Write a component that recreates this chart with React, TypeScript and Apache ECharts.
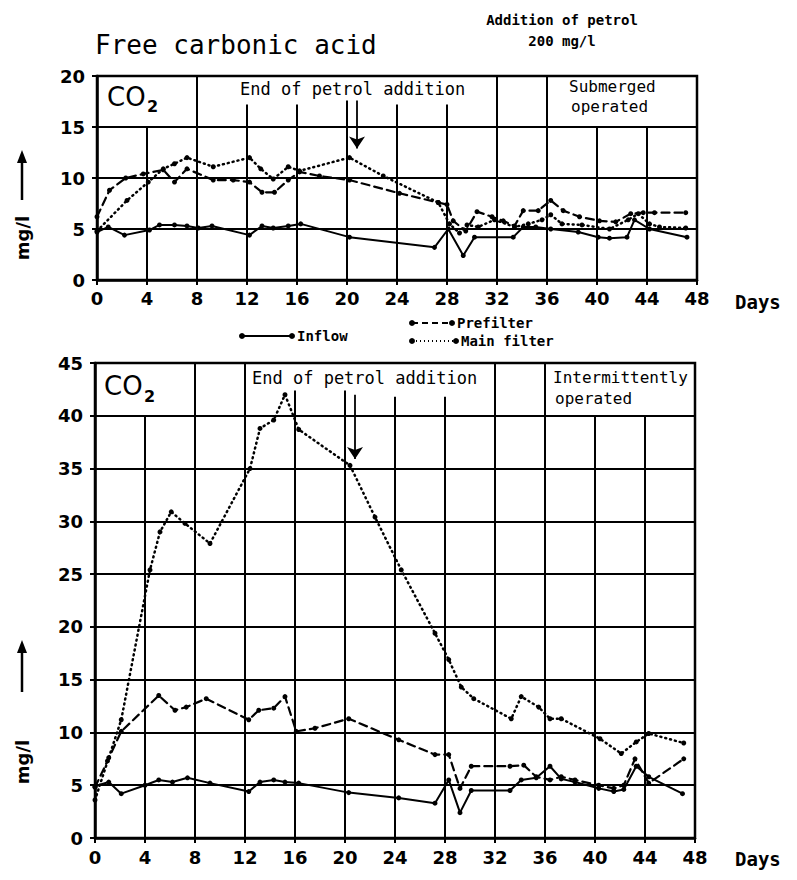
import React, { useEffect, useRef } from "react";
import * as echarts from "echarts";

// ---------- data (days, mg/l) ----------
const inTopDays = [0, 0.9, 2.2, 4.2, 5.0, 6.2, 7.2, 8.1, 9.2, 12.2, 13.2, 14.1, 15.3, 16.3, 20.2, 27.0, 28.1, 29.3, 30.2, 33.3, 34.1, 35.1, 36.3, 38.5, 40.1, 41.0, 42.4, 43.0, 44.2, 47.2];
const inTopVals = [4.7, 5.2, 4.4, 4.9, 5.4, 5.4, 5.3, 5.1, 5.3, 4.4, 5.3, 5.1, 5.3, 5.5, 4.2, 3.2, 5.0, 2.4, 4.2, 4.2, 5.2, 5.2, 5.0, 4.7, 4.2, 4.1, 4.2, 5.9, 5.0, 4.2];

const prefTopDays = [0, 1.0, 2.3, 3.7, 5.3, 6.2, 7.2, 9.3, 10.9, 12.2, 13.2, 14.2, 15.3, 16.2, 17.8, 20.2, 24.2, 27.3, 28.0, 28.5, 29.5, 30.4, 31.6, 32.5, 33.4, 34.1, 35.3, 36.3, 37.3, 38.6, 40.2, 41.5, 42.7, 43.7, 44.6, 47.1];
const prefTopVals = [6.2, 8.8, 10.0, 10.4, 10.8, 9.6, 10.9, 9.8, 9.8, 9.6, 8.6, 8.6, 9.8, 10.6, 10.2, 9.8, 8.5, 7.6, 7.4, 5.8, 4.8, 6.7, 6.2, 5.8, 5.3, 6.8, 6.8, 7.8, 6.8, 6.2, 5.8, 5.7, 6.5, 6.6, 6.6, 6.6];

const mainTopDays = [0, 2.4, 4.1, 5.3, 6.2, 7.2, 9.3, 12.2, 13.1, 14.1, 15.3, 16.2, 20.2, 22.9, 27.3, 28.2, 29.0, 29.6, 30.5, 31.8, 33.4, 34.5, 35.6, 36.3, 37.2, 38.8, 41.0, 42.5, 43.3, 44.2, 45.0, 47.1];
const mainTopVals = [4.8, 7.8, 9.6, 10.9, 11.4, 12.0, 11.1, 12.0, 10.9, 9.9, 11.1, 10.7, 12.0, 10.2, 7.6, 5.5, 4.6, 5.4, 5.2, 5.9, 5.2, 5.5, 5.9, 6.4, 5.5, 5.4, 5.0, 5.9, 6.5, 5.5, 5.2, 5.1];

const inBotDays = [0, 1.1, 2.1, 4.0, 5.1, 6.2, 7.4, 9.2, 12.3, 13.2, 14.3, 15.2, 16.3, 20.3, 24.3, 27.2, 28.3, 29.2, 30.1, 33.2, 34.1, 35.3, 36.4, 37.3, 38.4, 40.3, 41.5, 42.3, 43.3, 44.3, 47.0];
const inBotVals = [4.9, 5.3, 4.2, 5.0, 5.5, 5.3, 5.7, 5.2, 4.4, 5.3, 5.5, 5.3, 5.2, 4.3, 3.8, 3.3, 5.5, 2.4, 4.5, 4.5, 5.5, 5.7, 6.8, 5.6, 5.3, 4.7, 4.4, 4.6, 6.8, 5.8, 4.2];

const prefBotDays = [0, 1.0, 2.1, 5.1, 6.4, 7.3, 8.9, 12.3, 13.1, 14.3, 15.2, 16.1, 17.6, 20.3, 24.3, 27.2, 28.3, 29.2, 30.1, 33.2, 34.3, 35.3, 36.4, 37.3, 38.4, 40.3, 41.5, 42.3, 43.2, 44.3, 47.1];
const prefBotVals = [4.8, 7.3, 10.1, 13.5, 12.1, 12.4, 13.2, 11.2, 12.1, 12.3, 13.4, 10.1, 10.4, 11.3, 9.3, 7.9, 7.9, 4.7, 6.8, 6.8, 6.9, 5.8, 5.5, 5.8, 5.5, 5.0, 4.7, 5.0, 7.5, 5.2, 7.5];

const mainBotDays = [0, 1.1, 2.1, 4.4, 5.2, 6.1, 7.2, 9.2, 12.4, 13.2, 14.3, 15.2, 16.3, 20.4, 22.4, 24.5, 27.2, 28.3, 29.3, 30.3, 33.3, 34.1, 35.5, 36.4, 37.3, 40.4, 42.1, 43.3, 44.3, 47.1];
const mainBotVals = [3.6, 7.6, 11.2, 25.4, 29.0, 30.9, 29.8, 27.9, 35.0, 38.8, 39.6, 42.0, 38.7, 35.3, 30.4, 25.4, 19.4, 16.9, 14.3, 13.2, 11.3, 13.4, 12.4, 11.3, 11.3, 9.4, 8.0, 9.1, 9.9, 9.0];

// vertical grid lines: day and the value where each line stops
const gridDays = [4, 8, 12, 16, 20, 24, 28, 32, 36, 40, 44];
const topGridEnds = [15, 20, 17.2, 17.2, 17.6, 17.2, 17.2, 20, 20, 15, 15];
const botGridEnds = [40, 45, 45, 42.4, 42.4, 41.8, 41.8, 45, 45, 40, 40];

// arrow marking the end of petrol addition: day, from, to
const topArrow = [20.8, 17.6, 12.9];
const botArrow = [20.8, 42.0, 35.9];

const pair = (d: number[], v: number[]) => d.map((x, i) => [x, v[i]]);

const FONT = '"DejaVu Sans", sans-serif';
const MONO = '"DejaVu Sans Mono", monospace';

export default function App() {
  const ref = useRef<HTMLDivElement>(null);
  useEffect(() => {
    if (!ref.current) return;
    const chart = echarts.init(ref.current, null, { renderer: "svg" });

    const xAxisBase = (gi: number, margin: number) => ({
      type: "value",
      gridIndex: gi,
      min: 0,
      max: 48,
      interval: 4,
      axisLine: { show: true, lineStyle: { color: "#000", width: 2.5 } },
      axisTick: { show: true, length: 5, lineStyle: { color: "#000", width: 2 } },
      axisLabel: { color: "#000", fontFamily: FONT, fontWeight: "bold", fontSize: 18, margin },
      splitLine: { show: false },
    });
    const yAxisBase = (gi: number, max: number) => ({
      type: "value",
      gridIndex: gi,
      min: 0,
      max,
      interval: 5,
      axisLine: { show: true, lineStyle: { color: "#000", width: 2.5 } },
      axisTick: { show: true, length: 5, lineStyle: { color: "#000", width: 2 } },
      axisLabel: { color: "#000", fontFamily: FONT, fontWeight: "bold", fontSize: 18, margin: 12 },
      splitLine: { show: true, lineStyle: { color: "#000", width: 2 } },
    });

    const lineSeries = (name: string, gi: number, data: number[][], type: any, width: number) => ({
      name,
      type: "line",
      xAxisIndex: gi,
      yAxisIndex: gi,
      data,
      symbol: "circle",
      symbolSize: 5,
      itemStyle: { color: "#000" },
      lineStyle: { color: "#000", width, type, cap: "round" },
      z: 3,
    });

    const gridSeries = (gi: number, ends: number[]) => ({
      type: "line",
      xAxisIndex: gi,
      yAxisIndex: gi,
      data: [],
      silent: true,
      markLine: {
        silent: true,
        symbol: ["none", "none"],
        label: { show: false },
        lineStyle: { color: "#000", width: 2, type: "solid" },
        data: gridDays.map((d, i) => [{ coord: [d, 0] }, { coord: [d, ends[i]] }]),
      },
    });
    const arrowSeries = (gi: number, arrow: number[]) => ({
      type: "line",
      xAxisIndex: gi,
      yAxisIndex: gi,
      data: [],
      silent: true,
      markLine: {
        silent: true,
        symbol: ["none", "arrow"],
        symbolSize: 12,
        label: { show: false },
        lineStyle: { color: "#000", width: 1.8, type: "solid" },
        data: [[{ coord: [arrow[0], arrow[1]] }, { coord: [arrow[0], arrow[2]] }]],
      },
    });

    const txt = (x: number, y: number, text: string, font: string, align = "left", extra: any = {}) => ({
      type: "text",
      x,
      y,
      z: 10,
      ...extra,
      style: { text, font, fill: "#000", align, verticalAlign: "middle" },
    });

    const yName = (cx: number, cy: number, arrowTop: number, arrowBottom: number) => [
      txt(cx, cy, "mg/l", `bold 18px ${FONT}`, "center", { rotation: Math.PI / 2 }),
      { type: "line", z: 10, shape: { x1: cx, y1: arrowBottom, x2: cx, y2: arrowTop + 8 }, style: { stroke: "#000", lineWidth: 2.5 } },
      { type: "polygon", z: 10, shape: { points: [[cx, arrowTop], [cx - 5, arrowTop + 13], [cx + 5, arrowTop + 13]] }, style: { fill: "#000" } },
    ];

    const dot = (x: number, y: number) => ({ type: "circle", z: 10, shape: { cx: x, cy: y, r: 3 }, style: { fill: "#000" } });

    const option: any = {
      animation: false,
      backgroundColor: "#fff",
      grid: [
        { left: 97, top: 76, width: 600, height: 204, show: true, borderColor: "#000", borderWidth: 2.5, backgroundColor: "transparent" },
        { left: 95, top: 363, width: 600, height: 475, show: true, borderColor: "#000", borderWidth: 2.5, backgroundColor: "transparent" },
      ],
      xAxis: [xAxisBase(0, 9), xAxisBase(1, 10)],
      yAxis: [yAxisBase(0, 20), yAxisBase(1, 45)],
      series: [
        gridSeries(0, topGridEnds),
        gridSeries(1, botGridEnds),
        arrowSeries(0, topArrow),
        arrowSeries(1, botArrow),
        lineSeries("Inflow", 0, pair(inTopDays, inTopVals), "solid", 2),
        lineSeries("Prefilter", 0, pair(prefTopDays, prefTopVals), [8, 5], 2.2),
        lineSeries("Main filter", 0, pair(mainTopDays, mainTopVals), [1, 4], 2.5),
        lineSeries("Inflow", 1, pair(inBotDays, inBotVals), "solid", 2),
        lineSeries("Prefilter", 1, pair(prefBotDays, prefBotVals), [8, 5], 2.2),
        lineSeries("Main filter", 1, pair(mainBotDays, mainBotVals), [1, 4], 2.5),
      ],
      graphic: [
        txt(95, 45, "Free carbonic acid", `26px ${MONO}`),
        txt(562, 20, "Addition of petrol", `bold 14px ${MONO}`, "center"),
        txt(562, 41, "200 mg/l", `bold 14px ${MONO}`, "center"),
        // top panel texts
        txt(107, 97, "CO", `26px ${FONT}`),
        txt(147, 106, "2", `bold 16px ${FONT}`),
        txt(240, 89, "End of petrol addition", `17px ${MONO}`),
        txt(569, 86, "Submerged", `16px ${MONO}`),
        txt(571, 106, "operated", `16px ${MONO}`),
        // bottom panel texts
        txt(104, 386, "CO", `26px ${FONT}`),
        txt(144, 396, "2", `bold 16px ${FONT}`),
        txt(252, 378, "End of petrol addition", `17px ${MONO}`),
        txt(553, 377, "Intermittently", `16px ${MONO}`),
        txt(555, 398, "operated", `16px ${MONO}`),
        // x axis unit
        txt(735, 302, "Days", `bold 19px ${MONO}`),
        txt(735, 859, "Days", `bold 19px ${MONO}`),
        // y axis names
        ...yName(22, 238, 150, 200),
        ...yName(22, 762, 640, 692),
        // legend
        { type: "line", z: 10, shape: { x1: 242, y1: 336, x2: 292, y2: 336 }, style: { stroke: "#000", lineWidth: 2 } },
        dot(242, 336), dot(292, 336),
        txt(297, 336, "Inflow", `bold 14px ${MONO}`),
        { type: "line", z: 10, shape: { x1: 412, y1: 323, x2: 452, y2: 323 }, style: { stroke: "#000", lineWidth: 2, lineDash: [6, 4] } },
        dot(412, 323), dot(452, 323),
        txt(457, 323, "Prefilter", `bold 14px ${MONO}`),
        { type: "line", z: 10, shape: { x1: 412, y1: 341, x2: 456, y2: 341 }, style: { stroke: "#000", lineWidth: 2, lineDash: [1, 3] } },
        dot(412, 341), dot(456, 341),
        txt(461, 341, "Main filter", `bold 14px ${MONO}`),
      ],
    };

    chart.setOption(option);
    return () => chart.dispose();
  }, []);

  return <div ref={ref} style={{ position: "absolute", left: 0, top: 0, width: 797, height: 880, background: "#fff" }} />;
}
